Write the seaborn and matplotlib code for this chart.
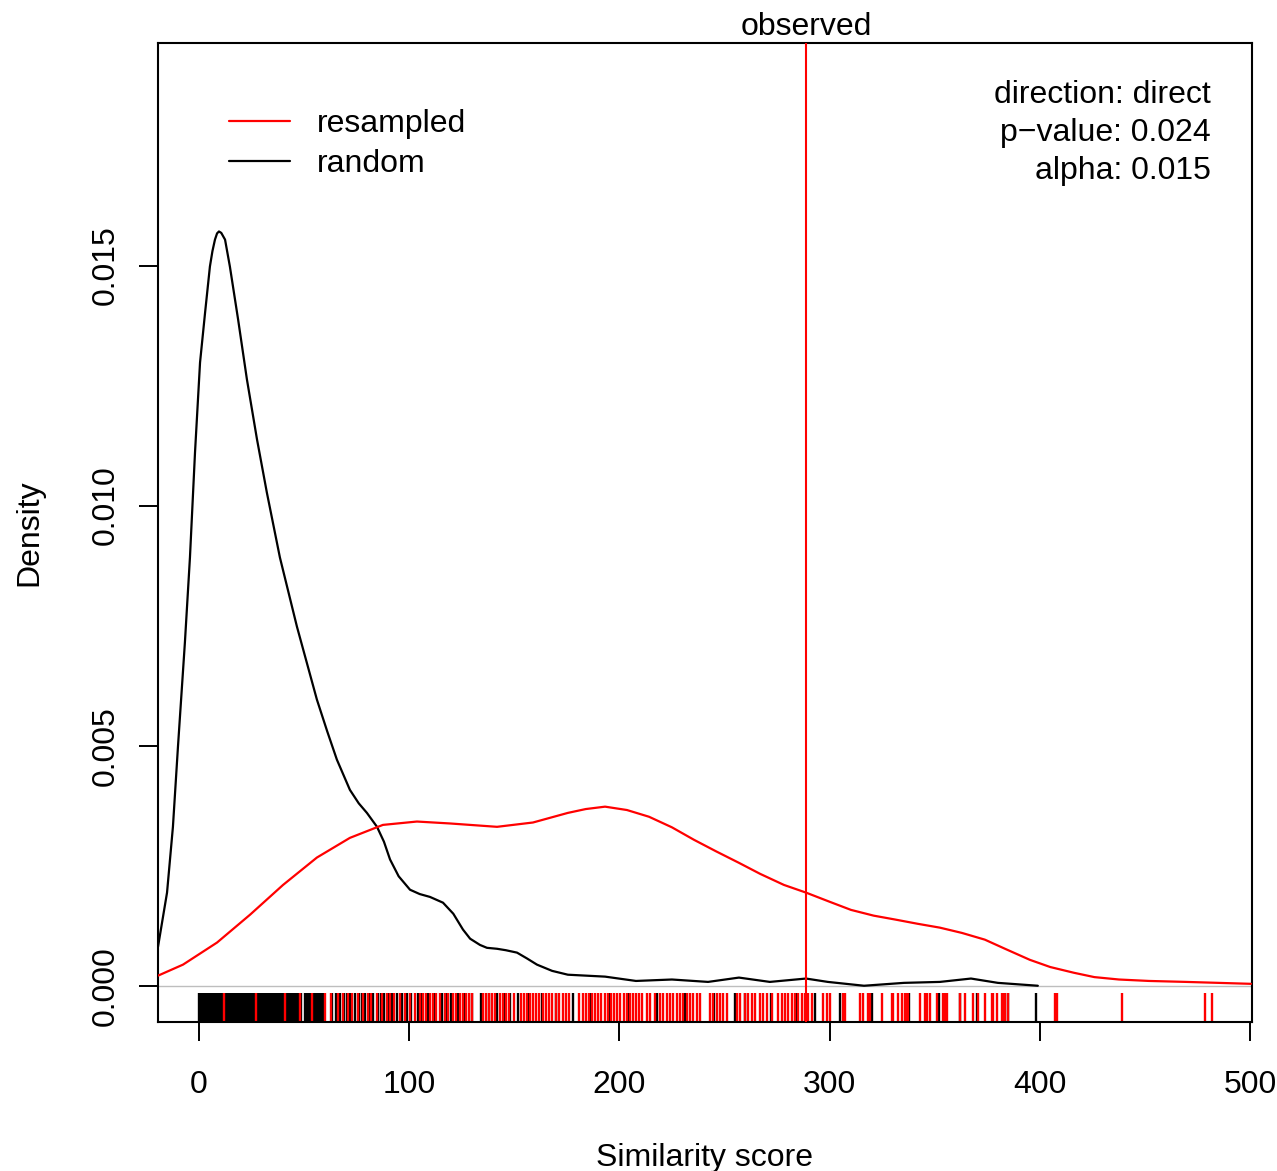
import numpy as np
import pandas as pd
import matplotlib
matplotlib.use("Agg")
import matplotlib.pyplot as plt
import seaborn as sns

# density of the random scores
random_x = [-19.5, -15.2, -12.4, -10.0, -6.7, -4.3, -1.9, 0.5, 2.9, 5.2, 6.4, 7.6, 8.6,
            9.5, 10.6, 12.4, 14.7, 18.6, 22.8, 27.6, 32.3, 38.5, 46.6, 56.1, 61.0,
            65.6, 71.8, 76.0, 79.9, 84.7, 88.0, 90.9, 95.0, 100.4, 105.0, 109.9, 116.1,
            121.0, 125.6, 129.0, 133.7, 137.0, 141.8, 146.0, 151.3, 156.0, 160.8,
            168.0, 175.5, 193.2, 207.9, 225.0, 242.2, 256.9, 271.6, 288.8, 299.2,
            316.4, 335.4, 352.5, 367.3, 380.1, 399.1]
random_y = [0.00081, 0.00194, 0.00331, 0.00498, 0.00715, 0.00892, 0.01110, 0.01298,
            0.01402, 0.01498, 0.01530, 0.01554, 0.01567, 0.01571, 0.01568, 0.01554,
            0.01498, 0.01388, 0.01263, 0.01138, 0.01027, 0.00892, 0.00748, 0.00596,
            0.00530, 0.00471, 0.00408, 0.00380, 0.00360, 0.00331, 0.00300, 0.00263,
            0.00228, 0.00200, 0.00191, 0.00185, 0.00173, 0.00150, 0.00117, 0.00098,
            0.00085, 0.00079, 0.00077, 0.00074, 0.00069, 0.00057, 0.00044, 0.00031,
            0.00023, 0.00019, 0.00010, 0.00013, 0.00008, 0.00017, 0.00008, 0.00015,
            0.00008, 0.00000, 0.00006, 0.00008, 0.00015, 0.00006, 0.00000]

# density of the resampled scores
resampled_x = [-19.5, -7.6, 8.6, 24.3, 40.0, 56.1, 71.8, 87.5, 103.7, 119.4, 141.8,
               158.9, 175.5, 184.0, 193.2, 203.6, 214.1, 225.0, 235.5, 246.0, 256.9,
               267.0, 278.3, 288.8, 300.0, 310.2, 321.0, 331.1, 342.0, 352.5, 363.0,
               373.9, 384.0, 395.3, 405.0, 416.3, 426.0, 437.7, 452.0, 469.6, 500.5]
resampled_y = [0.00021, 0.00044, 0.00090, 0.00148, 0.00210, 0.00267, 0.00308,
               0.00335, 0.00342, 0.00338, 0.00331, 0.00340, 0.00360, 0.00368,
               0.00373, 0.00366, 0.00352, 0.00330, 0.00304, 0.00280, 0.00256,
               0.00233, 0.00210, 0.00194, 0.00175, 0.00158, 0.00146, 0.00138,
               0.00129, 0.00121, 0.00110, 0.00096, 0.00076, 0.00054, 0.00039,
               0.00027, 0.00018, 0.00013, 0.00010, 0.00008, 0.00004]

# rug values
random_rug = [0, 0.6, 1.3, 1.9, 2.6, 3.2, 3.9, 4.5, 5.2, 5.8, 6.5, 7.1, 7.8, 8.4, 9.1,
              9.7, 10.4, 11, 11.7, 12.3, 13, 13.6, 14.3, 14.9, 15.6, 16.2, 16.9, 17.5,
              18.2, 18.8, 19.5, 20.1, 20.8, 21.4, 22.1, 22.7, 23.4, 24, 24.7, 25.3, 26,
              26.6, 27.3, 27.9, 28.6, 29.2, 29.9, 30.5, 31.2, 31.8, 32.5, 33.1, 33.8,
              34.4, 35.1, 35.7, 36.4, 37, 37.7, 38.3, 39, 39.6, 40.3, 40.9, 41.6, 42.2,
              42.9, 43.5, 44.2, 44.8, 45.5, 46.1, 46.8, 47.4, 48.1, 48.7,
              50.6, 51.3, 52, 52.8, 53.5, 54.3, 55, 55.8, 56.6, 57.3, 58, 58.8, 59.5,
              63.5, 65, 67, 69, 70.5, 72, 74, 76, 77.5, 79, 81, 83, 85, 86.5, 88, 90,
              92, 94, 96.5, 99, 101, 104, 106, 109, 112, 115.6, 118, 120, 123, 126,
              130, 134, 138, 142, 145, 148, 152, 157, 163, 170, 178, 186, 195, 204,
              218, 231, 245, 255, 260, 272, 284, 293, 305, 320, 338, 352, 362, 370,
              385, 398]
resampled_rug = [12, 27, 41, 48, 54, 60, 63,
                 66, 68.5, 71, 73, 75.5, 78, 80.5, 82, 84.5, 87, 89.5, 91, 93, 95.5,
                 98, 100.5, 103, 105, 106.5, 108, 110, 111.5, 113, 114.5, 117, 118.5,
                 121, 122.5, 124, 125.5, 127, 128.5, 130, 135, 136.5, 138, 139.5, 141,
                 143, 144.5, 146, 147.5, 150, 153, 154.5, 156, 157.5, 159, 160.5, 162,
                 163.5, 165, 166.5, 168, 170, 171.5, 173, 174.5, 176, 181, 182.5, 184,
                 185.5, 187, 188.5, 190, 191.5, 193, 194.5, 196, 197.5, 199, 200.5, 202,
                 203.5, 205, 206.5, 208, 209.5, 211, 213, 214.6, 216.9, 219.3, 220.9,
                 222.5, 224.1, 225.7, 227.3, 228.8, 230.4, 232, 233.6, 235.2, 236.8,
                 238.3, 243.1, 244.7, 246.3, 247.9, 249.4, 251, 255.8, 257.4, 259.8,
                 261.3, 262.9, 264.5, 266.9, 268.5, 270.1, 272.5, 275.6, 277.2, 278.8,
                 280.4, 282, 283.6, 285.1, 286.7, 288.3, 289.9, 291.5, 297, 298.6,
                 300.2, 306.5, 307.3, 314.5, 316, 318.4, 319.2, 324.8, 329.5, 330.3,
                 332.7, 334.3, 335.9, 336.7, 337.4, 343, 345.4, 346.2, 347.8, 351,
                 354.1, 354.9, 355.7, 362, 364.4, 368.4, 370.8, 374, 377.1, 377.9,
                 379.5, 381.9, 382.6, 383.5, 385, 407.2, 408.3, 439, 478.6, 482]

observed = 288.8
direction = "direct"
p_value = 0.024
alpha = 0.015

x_ticks = [0, 100, 200, 300, 400, 500]
y_ticks = [0.0, 0.005, 0.010, 0.015]
y_ticklabels = ["0.000", "0.005", "0.010", "0.015"]

sns.set_style("white", {"text.color": "black", "axes.labelcolor": "black",
                        "xtick.color": "black", "ytick.color": "black",
                        "axes.edgecolor": "black"})
plt.rcParams["font.family"] = ["Liberation Sans", "DejaVu Sans"]
FS = 23

fig = plt.figure(figsize=(12.77, 11.71), dpi=100)
ax = fig.add_axes([158 / 1277, 1 - 1022 / 1171, (1252 - 158) / 1277, (1022 - 43) / 1171])

ax.axhline(0, color="#BEBEBE", lw=1.0, zorder=1)
sns.lineplot(x=random_x, y=random_y, color="black", lw=1.6, sort=False, ax=ax,
             zorder=3, label="random")
sns.lineplot(x=resampled_x, y=resampled_y, color="red", lw=1.6, sort=False, ax=ax,
             zorder=3, label="resampled")
sns.rugplot(x=random_rug, height=0.03, color="black", linewidth=1.7, ax=ax, zorder=2)
sns.rugplot(x=resampled_rug, height=0.03, color="red", linewidth=1.7, ax=ax, zorder=2)
ax.axvline(observed, color="red", lw=1.5, zorder=4)

ax.set_xlim(-19.5, 501)
ax.set_ylim(-0.000755, 0.019635)
ax.set_xticks(x_ticks)
ax.set_xticklabels([str(t) for t in x_ticks])
ax.set_yticks(y_ticks)
ax.set_yticklabels(y_ticklabels, rotation=90, va="center")

for s in ax.spines.values():
    s.set_linewidth(1.5)
    s.set_color("black")
ax.tick_params(axis="both", direction="out", length=13.7, width=1.4, labelsize=FS,
               colors="black", left=True, bottom=True)
ax.tick_params(axis="x", pad=21)
ax.tick_params(axis="y", pad=13)

ax.set_xlabel("Similarity score", fontsize=FS)
ax.set_ylabel("Density", fontsize=FS)
ax.xaxis.set_label_coords(0.5, -0.1236)
ax.yaxis.set_label_coords(-0.104, 0.5)

ax.annotate("observed", xy=(observed, 1), xycoords=("data", "axes fraction"),
            xytext=(0, 5.5), textcoords="offset points", ha="center", va="baseline",
            fontsize=FS)

info = [f"direction: {direction}", f"p\u2212value: {p_value}", f"alpha: {alpha}"]
for i, line in enumerate(info):
    ax.annotate(line, xy=(1, 1), xycoords="axes fraction",
                xytext=(-29.5, -37.5 - 27.4 * i), textcoords="offset points",
                ha="right", va="center", fontsize=FS)

handles, labels = ax.get_legend_handles_labels()
order = [labels.index("resampled"), labels.index("random")]
ax.legend([handles[i] for i in order], [labels[i] for i in order],
          loc="upper left", bbox_to_anchor=(0.0649, 0.9325),
          frameon=False, fontsize=FS, borderpad=0, borderaxespad=0,
          handlelength=1.9, handletextpad=0.85, labelspacing=0.31)

fig.savefig("out.png", dpi=100)
